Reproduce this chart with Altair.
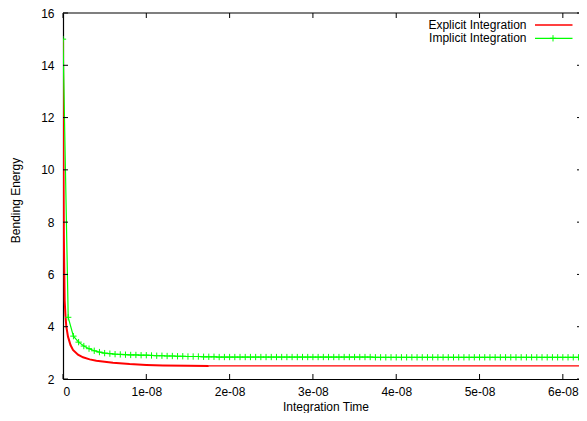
import json
import altair as alt
import pandas as pd

# ---------------- data ----------------
x_ticks = [0, 1e-08, 2e-08, 3e-08, 4e-08, 5e-08, 6e-08]
x_tick_labels = ["0", "1e-08", "2e-08", "3e-08", "4e-08", "5e-08", "6e-08"]
y_ticks = [2, 4, 6, 8, 10, 12, 14, 16]
series_names = ["Explicit Integration", "Implicit Integration"]

# explicit integration (time in units of 1e-08 s)
explicit_time_e8 = [0, 0.005, 0.01, 0.02, 0.03, 0.04, 0.06, 0.09, 0.12, 0.18, 0.24,
                    0.32, 0.40, 0.60, 0.80, 1.0, 1.2, 1.5, 1.75]
explicit_energy = [15.0, 10.5, 7.5, 5.0, 4.4, 4.0, 3.62, 3.3, 3.11, 2.93, 2.83,
                   2.75, 2.70, 2.62, 2.57, 2.54, 2.52, 2.51, 2.50]
explicit_tail_time_e8 = [1.75, 6.3]
explicit_tail_energy = [2.50, 2.50]

# implicit integration: one sample per step of 0.0625e-08 s
implicit_step_e8 = 0.0625
implicit_energy = [
    15.0, 4.36, 3.64, 3.41, 3.26, 3.16, 3.08, 3.03, 2.99, 2.97,
    2.95, 2.94, 2.93, 2.92, 2.92, 2.91, 2.91, 2.90, 2.89, 2.89,
    2.88, 2.88, 2.87, 2.87, 2.86, 2.86, 2.86, 2.85, 2.85, 2.85,
    2.84, 2.84, 2.84, 2.84, 2.84, 2.84, 2.84, 2.84, 2.84, 2.84,
    2.84, 2.84, 2.84, 2.84, 2.84, 2.84, 2.84, 2.84, 2.84, 2.84,
    2.84, 2.84, 2.84, 2.84, 2.84, 2.84, 2.84, 2.84, 2.84, 2.84,
    2.83, 2.83, 2.83, 2.83, 2.83, 2.83, 2.83, 2.83, 2.83, 2.83,
    2.83, 2.83, 2.83, 2.83, 2.83, 2.83, 2.83, 2.83, 2.83, 2.83,
    2.83, 2.83, 2.83, 2.83, 2.83, 2.83, 2.83, 2.83, 2.83, 2.83,
    2.83, 2.83, 2.83, 2.83, 2.83, 2.83, 2.83, 2.83, 2.83, 2.83,
    2.83,
]

# ---------------- tables ----------------
explicit_df = pd.DataFrame({"t": [v * 1e-8 for v in explicit_time_e8], "E": explicit_energy})
explicit_tail_df = pd.DataFrame({"t": [v * 1e-8 for v in explicit_tail_time_e8], "E": explicit_tail_energy})
implicit_df = pd.DataFrame({
    "t": [k * implicit_step_e8 * 1e-8 for k in range(len(implicit_energy))],
    "E": implicit_energy,
})
xtick_df = pd.DataFrame({"t": x_ticks})
ytick_df = pd.DataFrame({"E": y_ticks})
one_df = pd.DataFrame({"dummy": [0]})

# ---------------- layout ----------------
W, H = 516, 366
XMAX = 6.194e-08
FONT = "Liberation Sans"
RED = "#ff0000"
GREEN = "#00ff00"
PLUS = "M-1,0L1,0M0,-1L0,1"

xs = alt.Scale(domain=[0, XMAX], nice=False, zero=False)
ys = alt.Scale(domain=[2, 16], nice=False, zero=False)

label_expr = json.dumps(x_tick_labels) + "[round(datum.value * 1e8)]"

x_axis = alt.Axis(values=x_ticks, labelExpr=label_expr, title="Integration Time",
                  ticks=False, grid=False, domainColor="black", domainWidth=1.2,
                  labelPadding=7, titleBaseline="alphabetic", titleY=31,
                  titleX=262.5, titleAlign="center")
y_axis = alt.Axis(values=y_ticks, title="Bending Energy", ticks=False, grid=False,
                  domainColor="black", domainWidth=1.2, labelPadding=9,
                  titleBaseline="alphabetic", titleAngle=270, titleX=-44, titleY=187,
                  titleAlign="center")


def X(field="t"):
    return alt.X(f"{field}:Q", scale=xs, axis=x_axis)


def Y(field="E"):
    return alt.Y(f"{field}:Q", scale=ys, axis=y_axis)


explicit_tail = alt.Chart(explicit_tail_df).mark_line(color=RED, strokeWidth=1.2, clip=True).encode(
    x=X(), y=Y())
explicit_line = alt.Chart(explicit_df).mark_line(color=RED, strokeWidth=2, clip=True).encode(
    x=X(), y=Y(), order="t:Q")
implicit_line = alt.Chart(implicit_df).mark_line(color=GREEN, strokeWidth=1.2, clip=True).encode(
    x=X(), y=Y(), order="t:Q")
implicit_pts = alt.Chart(implicit_df).mark_point(
    shape=PLUS, size=40, filled=False, strokeWidth=1, color=GREEN, opacity=1, clip=True
).encode(x=X(), y=Y())

TL = 5
left_ticks = alt.Chart(ytick_df).mark_rule(color="black", strokeWidth=1).encode(
    y=Y(), x=alt.value(0), x2=alt.value(TL))
right_ticks = alt.Chart(ytick_df).mark_rule(color="black", strokeWidth=1).encode(
    y=Y(), x=alt.value(W - 2), x2=alt.value(W))
bottom_ticks = alt.Chart(xtick_df).mark_rule(color="black", strokeWidth=1).encode(
    x=X(), y=alt.value(H), y2=alt.value(H - TL))
top_ticks = alt.Chart(xtick_df).mark_rule(color="black", strokeWidth=1).encode(
    x=X(), y=alt.value(0), y2=alt.value(TL))
top_border = alt.Chart(one_df).mark_rule(color="black", strokeWidth=1.2).encode(
    x=alt.value(0), x2=alt.value(W), y=alt.value(0))

# legend (gnuplot style, top right)
LX_TEXT, LX0, LX1, LXM = 463.5, 472, 509.5, 490
LY0, LY1 = 12, 25.3
leg_df0 = pd.DataFrame({"name": [series_names[0]]})
leg_df1 = pd.DataFrame({"name": [series_names[1]]})
leg_text0 = alt.Chart(leg_df0).mark_text(align="right", baseline="middle", font=FONT, fontSize=12,
                                         color="black").encode(
    text="name:N", x=alt.value(LX_TEXT), y=alt.value(LY0))
leg_text1 = alt.Chart(leg_df1).mark_text(align="right", baseline="middle", font=FONT, fontSize=12,
                                         color="black").encode(
    text="name:N", x=alt.value(LX_TEXT), y=alt.value(LY1))
leg_line0 = alt.Chart(leg_df0).mark_rule(color=RED, strokeWidth=1.5).encode(
    x=alt.value(LX0), x2=alt.value(LX1), y=alt.value(LY0))
leg_line1 = alt.Chart(leg_df1).mark_rule(color=GREEN, strokeWidth=1.2).encode(
    x=alt.value(LX0), x2=alt.value(LX1), y=alt.value(LY1))
leg_pt1 = alt.Chart(leg_df1).mark_point(shape=PLUS, size=40, filled=False, strokeWidth=1,
                                        color=GREEN, opacity=1).encode(
    x=alt.value(LXM), y=alt.value(LY1))

chart = alt.layer(
    explicit_tail, explicit_line, implicit_line, implicit_pts,
    left_ticks, right_ticks, bottom_ticks, top_ticks, top_border,
    leg_text0, leg_text1, leg_line0, leg_line1, leg_pt1,
).properties(
    width=W, height=H,
    autosize=alt.AutoSizeParams(type="none"),
    padding={"left": 55, "top": 5, "right": 0, "bottom": 34},
).configure_view(
    stroke=None
).configure_axis(
    labelFont=FONT, labelFontSize=12, labelColor="black",
    titleFont=FONT, titleFontSize=12, titleFontWeight="normal", titleColor="black",
)

chart.save("out.html", embed_options={"renderer": "svg", "actions": False})
